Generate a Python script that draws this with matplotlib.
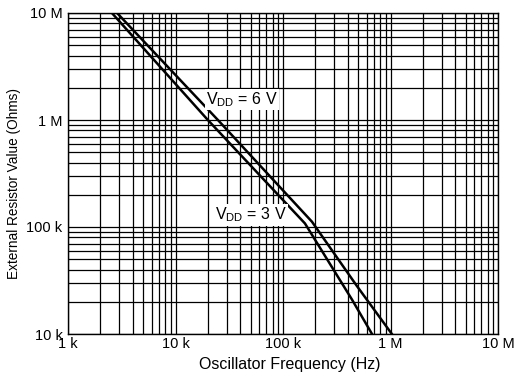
import matplotlib
matplotlib.use("Agg")
import matplotlib.pyplot as plt
from matplotlib.ticker import FixedLocator, NullFormatter, LogLocator

plt.rcParams['font.family'] = ['Liberation Sans', 'DejaVu Sans']
plt.rcParams['mathtext.fontset'] = 'custom'
plt.rcParams['mathtext.rm'] = 'Liberation Sans'
plt.rcParams['mathtext.it'] = 'Liberation Sans'

# Data
freq_6v = [2.86e3, 24.8e3, 186e3, 488e3, 1.03e6]
res_6v = [10e6, 1.0e6, 112e3, 28e3, 10e3]
freq_3v = [2.56e3, 20e3, 160e3, 438e3, 673e3]
res_3v = [10e6, 1.0e6, 108e3, 21e3, 10e3]

x_ticks = [1e3, 1e4, 1e5, 1e6, 1e7]
x_labels = ["1 k", "10 k", "100 k", "1 M", "10 M"]
y_ticks = [1e4, 1e5, 1e6, 1e7]
y_labels = ["10 k", "100 k", "1 M", "10 M"]

fig = plt.figure(figsize=(5.18, 3.76), dpi=100)
ax = fig.add_axes([68/518, 1-334/376, 430/518, 321/376])
ax.set_xscale('log')
ax.set_yscale('log')
ax.set_xlim(1e3, 1e7)
ax.set_ylim(1e4, 1e7)

ax.xaxis.set_major_locator(FixedLocator(x_ticks))
ax.set_xticklabels(x_labels)
ax.yaxis.set_major_locator(FixedLocator(y_ticks))
ax.set_yticklabels(y_labels)
ax.xaxis.set_minor_locator(LogLocator(base=10, subs=range(2, 10)))
ax.yaxis.set_minor_locator(LogLocator(base=10, subs=range(2, 10)))
ax.xaxis.set_minor_formatter(NullFormatter())
ax.yaxis.set_minor_formatter(NullFormatter())
ax.tick_params(which='both', length=0, labelsize=10.5, colors='black')
ax.tick_params(axis='x', pad=2)
ax.tick_params(axis='y', pad=4)

ax.grid(True, which='both', color='black', linewidth=0.9)
for s in ax.spines.values():
    s.set_color('black')
    s.set_linewidth(1.0)

ax.plot(freq_6v, res_6v, color='black', linewidth=1.8, zorder=3)
ax.plot(freq_3v, res_3v, color='black', linewidth=1.8, zorder=3)

ax.text(41.6e3, 1.56e6, r"V$_{\rm DD}$ = 6 V", fontsize=11.5, ha='center', va='center',
        bbox=dict(facecolor='white', edgecolor='none', pad=1.0), zorder=4)
ax.text(50.4e3, 130e3, r"V$_{\rm DD}$ = 3 V", fontsize=11.5, ha='center', va='center',
        bbox=dict(facecolor='white', edgecolor='none', pad=1.0), zorder=4)

ax.set_xlabel("Oscillator Frequency (Hz)", fontsize=11.5)
ax.xaxis.set_label_coords(0.515, -0.095)
ax.xaxis.label.set_va('center')
ax.set_ylabel("External Resistor Value (Ohms)", fontsize=9.8)
ax.yaxis.set_label_coords(-0.125, 0.47)
ax.yaxis.label.set_va('center')

fig.savefig("out.png", dpi=100)
